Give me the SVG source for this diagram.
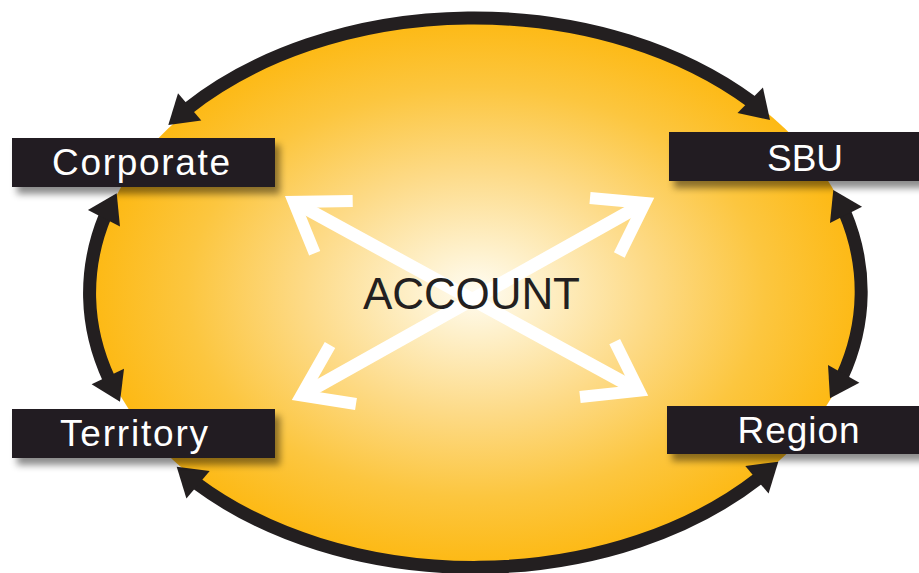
<svg xmlns="http://www.w3.org/2000/svg" xmlns:xlink="http://www.w3.org/1999/xlink" width="919" height="573" viewBox="0 0 919 573">
  <defs>
    <radialGradient id="glow" cx="0.5" cy="0.5" r="0.5">
      <stop offset="0" stop-color="#FFFCF2"/>
      <stop offset="0.15" stop-color="#FEF1CD"/>
      <stop offset="0.45" stop-color="#FDDA86"/>
      <stop offset="0.75" stop-color="#FCC63F"/>
      <stop offset="1" stop-color="#FDB914"/>
    </radialGradient>
    <filter id="shadow" x="-10%" y="-30%" width="125%" height="170%">
      <feDropShadow dx="5" dy="7" stdDeviation="3.5" flood-color="#000" flood-opacity="0.45"/>
    </filter>
    <!-- filled arrowhead, tip at origin pointing along +x -->
    <path id="head" d="M0,0 L-28,-18 L-28,18 Z" fill="#231F20"/>
  </defs>
  <style>
    .ring { fill: none; stroke: #231F20; stroke-width: 13; }
    .box { fill: #231F20; filter: url(#shadow); }
    .label { font-family: "Liberation Sans", Arial, sans-serif; font-size: 37px; fill: #FFFFFF; }
    .centre { font-family: "Liberation Sans", Arial, sans-serif; font-size: 44px; fill: #231F20; }
    .shaft { fill: none; stroke: #FFFFFF; stroke-width: 13; }
    .chevron { fill: none; stroke: #FFFFFF; stroke-width: 12; stroke-linejoin: miter; stroke-miterlimit: 10; }
  </style>

  <!-- central account field -->
  <g id="account">
    <ellipse cx="476.5" cy="292" rx="385" ry="273" fill="url(#glow)"/>
    <g id="spokes">
      <line class="shaft" x1="293.8" y1="201.9" x2="639" y2="390.7"/>
      <line class="shaft" x1="645" y1="202.9" x2="301.3" y2="395.5"/>
      <polyline class="chevron" points="352.7,201 293.8,201.9 314.7,253.3"/>
      <polyline class="chevron" points="590,198 645,202.9 619.3,255"/>
      <polyline class="chevron" points="356,404 301.3,395.5 330,345"/>
      <polyline class="chevron" points="580,397 639,390.7 614.7,341.7"/>
    </g>
    <text class="centre" x="363" y="308.5" textLength="217">ACCOUNT</text>
  </g>

  <!-- ring of two-way connectors between the four levels -->
  <g id="connectors">
    <path class="ring" d="M187.4,108.8 A385.5,274 0 0 1 752.3,102.3"/>
    <path class="ring" d="M844.7,212.3 A385.5,274 0 0 1 842.2,376.5"/>
    <path class="ring" d="M759.2,477.9 A385.5,274 0 0 1 195.8,482.9"/>
    <path class="ring" d="M109.1,379.2 A385.5,274 0 0 1 105.3,215.6"/>
    <use xlink:href="#head" transform="translate(168.3,125) rotate(139.7)"/>
    <use xlink:href="#head" transform="translate(770,120) rotate(45)"/>
    <use xlink:href="#head" transform="translate(833.3,190) rotate(-117)"/>
    <use xlink:href="#head" transform="translate(830,398.3) rotate(119.3)"/>
    <use xlink:href="#head" transform="translate(778.3,461.7) rotate(-40.3)"/>
    <use xlink:href="#head" transform="translate(176.7,466.7) rotate(220.3)"/>
    <use xlink:href="#head" transform="translate(120,401.7) rotate(64.2)"/>
    <use xlink:href="#head" transform="translate(116.7,193.3) rotate(-62.9)"/>
  </g>

  <g id="corporate">
    <rect class="box" x="12" y="138" width="263" height="49"/>
    <text class="label" x="52" y="174.5" textLength="178">Corporate</text>
  </g>
  <g id="sbu">
    <rect class="box" x="669" y="132" width="260" height="49"/>
    <text class="label" x="767" y="170.5" textLength="76">SBU</text>
  </g>
  <g id="territory">
    <rect class="box" x="12" y="409" width="263" height="49"/>
    <text class="label" x="60" y="446" textLength="148">Territory</text>
  </g>
  <g id="region">
    <rect class="box" x="667" y="406" width="262" height="48"/>
    <text class="label" x="737.5" y="442.5" textLength="122">Region</text>
  </g>
</svg>
